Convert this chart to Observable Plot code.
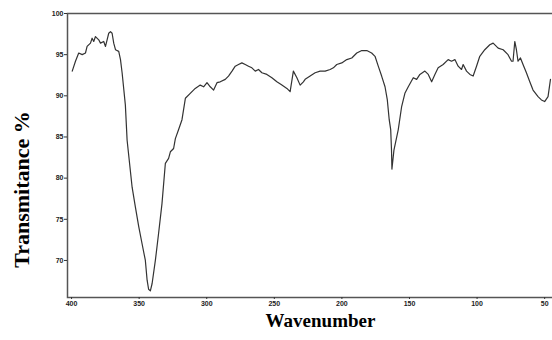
<!DOCTYPE html>
<html>
<head>
<meta charset="utf-8">
<script src="https://cdn.jsdelivr.net/npm/d3@7"></script>
<script src="https://cdn.jsdelivr.net/npm/@observablehq/plot@0.6"></script>
<style>
  html, body { margin: 0; padding: 0; background: white; overflow: hidden; }
  #chart svg { overflow: visible; }
</style>
</head>
<body>
<div id="chart"></div>
<script>
const wavenumber = [3995,3971,3947,3921,3897,3885,3860,3848,3836,3823,3799,3786,3762,3749,3737,3725,3712,3700,3688,3675,3651,3638,3626,3602,3589,3552,3528,3503,3478,3454,3441,3430,3417,3404,3380,3356,3331,3306,3282,3269,3245,3232,3208,3183,3158,3122,3085,3048,3023,2998,2974,2949,2924,2900,2863,2839,2813,2789,2765,2740,2715,2691,2666,2641,2617,2592,2555,2518,2481,2444,2407,2383,2359,2333,2309,2285,2272,2235,2198,2161,2124,2087,2063,2038,2001,1964,1927,1890,1853,1816,1780,1755,1731,1706,1681,1664,1650,1639,1633,1630,1615,1583,1558,1534,1509,1472,1447,1423,1386,1361,1336,1312,1288,1251,1214,1189,1164,1140,1115,1103,1078,1053,1029,1004,980,943,906,881,844,807,771,745,734,721,709,697,679,660,635,610,586,549,524,500,475,457];
const transmittance = [93.0,94.2,95.2,95.0,95.2,96.0,96.4,97.0,96.6,97.2,96.8,96.4,96.6,96.0,96.8,97.6,97.8,97.6,96.4,95.6,95.4,94.4,92.8,88.9,84.6,78.9,76.5,74.1,72.0,70.0,67.6,66.5,66.3,67.2,70.0,73.3,76.9,81.8,82.4,83.2,83.6,84.8,85.9,87.1,89.7,90.3,90.9,91.3,91.1,91.6,91.1,90.7,91.6,91.7,92.0,92.4,93.0,93.6,93.8,94.0,93.8,93.6,93.4,93.0,93.2,92.8,92.6,92.2,91.7,91.3,90.9,90.5,93.0,92.2,91.3,91.7,92.0,92.4,92.8,93.0,93.0,93.2,93.4,93.8,94.0,94.4,94.6,95.2,95.5,95.5,95.2,94.8,93.6,92.4,91.1,89.5,87.1,85.9,83.4,81.1,83.4,85.9,88.7,90.3,91.1,92.2,92.0,92.6,93.0,92.6,91.7,92.6,93.4,93.8,94.4,94.2,94.4,93.6,93.2,93.8,93.0,92.6,92.4,93.6,94.8,95.6,96.2,96.4,95.8,95.6,95.0,94.2,94.2,96.6,95.6,94.2,94.6,93.8,92.8,91.7,90.7,89.9,89.5,89.3,89.9,92.0];
const xTicks = [4000,3500,3000,2500,2000,1500,1000,500];
const xTickLabels = ["400","350","300","250","200","150","100","50"];
const yTicks = [100,95,90,85,80,75,70];
const yTickLabels = ["100","95","90","85","80","75","70"];
const xTitle = "Wavenumber";
const yTitle = "Transmitance %";

const data = wavenumber.map((w, i) => ({w, t: transmittance[i]}));

const chart = Plot.plot({
  width: 552,
  height: 340,
  marginLeft: 67,
  marginTop: 13,
  marginBottom: 43,
  marginRight: -5,
  x: {domain: [4030, 405]},
  y: {domain: [65.5, 100]},
  style: {background: "white", fontFamily: "Liberation Sans, Arial, sans-serif", color: "#222"},
  marks: [
    Plot.frame({stroke: "#555", strokeWidth: 1.5}),
    Plot.axisY({ticks: yTicks, tickFormat: d => yTickLabels[yTicks.indexOf(d)], tickSize: 3, tickPadding: 1, fontSize: 7, fontWeight: "bold", label: null, stroke: "#333"}),
    Plot.axisX({ticks: xTicks, tickFormat: d => xTickLabels[xTicks.indexOf(d)], tickSize: 2, tickPadding: 2, fontSize: 7, fontWeight: "bold", label: null, stroke: "#333"}),
    Plot.line(data, {x: "w", y: "t", stroke: "#333", strokeWidth: 1.2}),
    Plot.text([xTitle], {frameAnchor: "bottom", textAnchor: "middle", dx: 8, dy: 29, fontSize: 19, fontWeight: "bold", fontFamily: "Liberation Serif, Times New Roman, serif", fill: "black"}),
    Plot.text([yTitle], {frameAnchor: "left", textAnchor: "middle", rotate: -90, dx: -46, dy: 34, fontSize: 22, fontWeight: "bold", fontFamily: "Liberation Serif, Times New Roman, serif", fill: "black"})
  ]
});
document.getElementById("chart").appendChild(chart);
</script>
</body>
</html>
